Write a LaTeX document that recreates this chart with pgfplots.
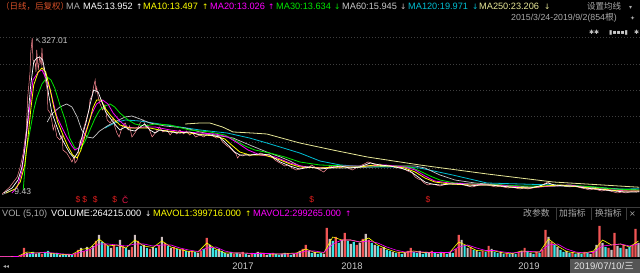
\documentclass[border=0pt]{standalone}
\usepackage{fontspec}
\setmainfont{Liberation Sans}
\newfontfamily\cjk{Noto Sans CJK SC}
\newfontfamily\dv{DejaVu Sans}
\usepackage{pgfplots}
\usepackage{pgfplotstable}
\pgfplotsset{compat=1.18}

\definecolor{ma5}{RGB}{255,255,255}
\definecolor{ma10}{RGB}{255,255,0}
\definecolor{ma20}{RGB}{255,0,255}
\definecolor{ma30}{RGB}{0,230,0}
\definecolor{ma60}{RGB}{200,200,200}
\definecolor{ma120}{RGB}{0,190,210}
\definecolor{ma250}{RGB}{230,230,150}
\definecolor{candle}{RGB}{255,140,150}
\definecolor{vred}{RGB}{240,85,85}
\definecolor{vcyan}{RGB}{60,230,230}
\definecolor{vgray}{RGB}{205,190,190}
\definecolor{txtgray}{RGB}{170,170,170}
\definecolor{titleor}{RGB}{215,80,40}
\definecolor{gridc}{RGB}{62,62,62}
\definecolor{sepc}{RGB}{60,60,60}
\definecolor{mkred}{RGB}{225,30,30}
\definecolor{datebg}{RGB}{85,85,85}

\newcommand{\hf}{\fontsize{9.2pt}{11pt}\selectfont}
\newcommand{\af}{\dv\fontsize{7.5pt}{9pt}\selectfont}

% close price (bar index, price)
\pgfplotstableread{
i p
3 9.43
13 23.7
23 44.0
27 64.4
31 92.9
35 139.7
37 207.0
40 255.8
41 296.5
43 327.0
44 282.2
47 276.1
48 257.8
49 302.6
51 261.9
53 288.4
55 272.1
56 306.7
57 276.1
60 247.6
63 221.2
64 180.4
67 174.3
69 160.1
71 139.7
73 149.9
76 125.5
80 119.4
83 129.5
84 99.0
89 92.9
93 82.7
96 74.6
99 84.8
100 72.5
103 78.6
107 119.4
109 109.2
111 139.7
113 149.9
116 166.2
119 180.4
120 200.8
123 211.0
124 221.2
127 241.5
128 217.1
129 227.3
131 207.0
133 194.7
137 180.4
140 190.6
143 160.1
147 154.0
151 164.2
153 147.9
156 133.6
159 125.5
163 145.8
167 154.0
171 139.7
173 147.9
176 125.5
180 133.6
184 143.8
187 154.0
191 160.1
195 143.8
197 149.9
203 125.5
207 133.6
211 141.8
213 145.8
217 135.7
223 139.7
227 129.5
231 137.7
236 131.6
240 139.7
245 131.6
249 137.7
253 129.5
257 133.6
261 125.5
267 129.5
272 125.5
277 131.6
284 127.5
289 123.4
293 125.5
297 115.3
303 107.2
307 103.1
311 97.0
315 90.9
317 82.7
320 88.8
324 86.8
329 90.9
333 86.8
339 90.9
343 88.8
348 92.9
354 88.8
358 90.9
363 84.8
367 78.6
371 74.6
376 70.5
380 66.4
384 68.5
390 62.4
395 58.3
400 60.3
406 64.4
411 62.4
416 68.5
422 62.4
427 58.3
432 54.2
436 60.3
440 66.4
444 64.4
450 68.5
454 62.4
459 66.4
464 62.4
470 58.3
475 62.4
480 66.4
486 70.5
491 74.6
496 72.5
502 68.5
507 70.5
512 66.4
518 64.4
523 66.4
528 62.4
534 62.4
539 60.3
544 56.3
550 52.2
554 44.0
558 40.0
562 37.9
566 31.8
571 27.8
576 29.8
582 27.8
587 25.7
592 27.8
598 29.8
603 31.8
608 29.8
614 31.8
619 27.8
624 25.7
630 23.7
635 25.7
640 27.8
646 29.8
651 27.8
656 25.7
662 23.7
667 25.7
672 23.7
678 21.6
683 23.7
688 21.6
694 19.6
699 21.6
704 19.6
710 21.6
715 23.7
720 25.7
726 29.8
731 33.9
735 29.8
739 27.8
744 25.7
750 27.8
755 25.7
760 23.7
766 25.7
771 23.7
776 21.6
782 19.6
787 17.6
792 19.6
798 17.6
803 15.5
808 17.6
814 15.5
819 13.5
824 11.5
830 13.5
835 11.5
840 13.5
846 15.5
850 13.5
853 13.95
}\closeT

\pgfplotstableread{
i p
5 11.5
16 21.6
24 37.9
29 62.4
33 99.0
37 160.1
41 231.4
45 278.2
49 286.3
53 288.4
57 282.2
61 251.7
65 211.0
69 176.4
75 149.9
80 129.5
87 109.2
93 92.9
99 82.7
104 94.9
109 123.4
115 156.0
120 190.6
125 221.2
131 217.1
136 196.7
141 176.4
147 164.2
153 151.9
160 139.7
167 145.8
173 139.7
180 137.7
187 145.8
193 151.9
200 139.7
207 133.6
213 139.7
227 135.7
240 133.6
253 135.7
267 129.5
280 129.5
293 125.5
300 115.3
307 105.1
313 94.9
320 88.8
333 88.8
347 90.9
360 88.8
374 74.6
387 66.4
400 60.3
414 64.4
427 60.3
440 62.4
454 66.4
467 62.4
480 64.4
494 72.5
507 68.5
520 66.4
534 62.4
547 56.3
558 44.0
567 33.9
576 29.8
587 27.8
600 29.8
614 29.8
627 25.7
640 27.8
654 27.8
667 25.7
680 23.7
694 21.6
707 21.6
720 25.7
731 31.8
740 27.8
754 25.7
767 25.7
780 21.6
794 19.6
807 17.6
820 15.5
834 13.5
847 13.5
853 13.95
}\maA

\pgfplotstableread{
i p
8 11.5
20 19.6
27 33.9
33 68.5
37 119.4
41 180.4
45 231.4
51 257.8
56 265.9
61 257.8
67 221.2
72 184.5
77 156.0
84 129.5
91 105.1
97 88.8
103 82.7
108 99.0
113 125.5
119 156.0
124 184.5
129 200.8
135 200.8
140 184.5
147 170.3
153 160.1
160 149.9
173 143.8
187 143.8
200 143.8
213 139.7
233 135.7
253 133.6
273 129.5
287 127.5
300 121.4
309 109.2
320 94.9
333 88.8
353 88.8
374 78.6
387 70.5
400 64.4
427 62.4
454 64.4
480 64.4
500 68.5
520 66.4
540 62.4
554 54.2
567 42.0
580 33.9
600 29.8
627 27.8
654 27.8
680 23.7
707 21.6
727 25.7
747 27.8
774 23.7
800 19.6
827 15.5
853 15.5
}\maB

\pgfplotstableread{
i p
16 11.5
23 23.7
29 54.2
36 139.7
40 190.6
44 241.5
51 257.8
56 261.9
61 245.6
67 221.2
72 190.6
76 166.2
83 143.8
89 125.5
96 107.2
100 99.0
105 103.1
109 113.3
116 143.8
123 174.3
129 192.7
137 200.8
144 192.7
151 174.3
160 158.0
169 145.8
180 143.8
193 145.8
207 145.8
227 139.7
247 135.7
267 133.6
287 131.6
304 125.5
317 113.3
331 99.0
347 88.8
367 84.8
387 72.5
407 64.4
434 62.4
460 66.4
487 66.4
514 68.5
540 64.4
554 58.3
567 46.1
580 35.9
600 31.8
627 29.8
654 27.8
680 25.7
707 21.6
734 25.7
760 27.8
787 21.6
814 17.6
840 15.5
853 15.5
}\maC

\pgfplotstableread{
i p
31 17.6
35 97.0
40 137.7
45 180.4
49 204.9
56 233.4
63 247.6
68 241.5
73 225.3
80 190.6
87 160.1
93 123.4
100 103.1
107 101.0
113 115.3
120 139.7
127 164.2
133 180.4
140 188.6
147 192.7
153 186.6
160 174.3
171 160.1
180 151.9
193 147.9
207 151.9
227 149.9
253 139.7
280 135.7
300 129.5
313 119.4
327 107.2
340 99.0
360 92.9
380 84.8
400 74.6
427 68.5
460 66.4
494 66.4
527 66.4
547 64.4
560 56.3
574 46.1
587 37.9
607 31.8
634 29.8
667 27.8
694 25.7
727 25.7
760 27.8
794 23.7
820 19.6
853 17.6
}\maD

\pgfplotstableread{
i p
63 156.0
69 172.3
80 186.6
89 192.7
96 186.6
103 166.2
109 139.7
116 125.5
124 123.4
133 137.7
143 147.9
153 156.0
167 166.2
176 168.2
187 162.1
200 154.0
220 147.9
247 143.8
267 135.7
287 129.5
311 123.4
333 109.2
356 94.9
374 84.8
387 76.6
400 66.4
427 62.4
460 62.4
494 64.4
527 66.4
554 66.4
567 62.4
587 48.1
607 37.9
634 31.8
667 27.8
707 23.7
747 25.7
787 23.7
820 19.6
853 17.6
}\maE

\pgfplotstableread{
i p
140 143.8
153 154.0
167 160.1
187 158.0
213 151.9
240 145.8
267 139.7
303 133.6
333 123.4
356 113.3
400 92.9
427 76.6
454 68.5
490 64.4
534 64.4
560 62.4
604 48.1
650 31.8
694 29.8
738 27.8
787 23.7
827 19.6
853 19.97
}\maF

\pgfplotstableread{
i p
247 151.9
267 154.0
280 154.0
297 145.8
311 135.7
336 133.6
356 131.6
400 113.3
444 99.0
490 84.8
534 74.6
560 68.5
650 50.2
738 33.9
853 23.2
}\maG

% volume, unit 10^4 shares; c: 1 up, 2 down, 3 hollow up
\pgfplotstableread{
i v c
0 2.4 1
4 2.4 1
8 2.4 1
12 2.4 1
16 3 1
20 3 1
24 3.6 1
28 9 1
32 54 1
36 24 3
40 18 2
44 30 2
48 18 3
52 24 2
56 18 1
60 30 2
64 36 2
68 24 3
72 18 2
76 24 2
80 12 3
84 18 2
88 12 2
92 18 3
96 12 2
100 18 1
104 42 1
108 54 3
112 36 1
116 60 3
120 48 1
124 66 3
128 96 1
132 132 3
136 90 2
140 78 1
144 66 2
148 54 3
152 72 1
156 60 2
160 102 3
164 66 1
168 54 2
172 42 3
176 60 1
180 132 3
184 96 1
188 66 2
192 72 3
196 54 2
200 48 1
204 60 3
208 54 2
212 72 1
216 120 3
220 84 1
224 66 2
228 54 3
232 60 1
236 48 2
240 42 3
244 48 1
248 36 2
252 30 3
256 36 1
260 30 2
264 24 3
268 36 1
272 48 2
276 114 1
280 72 3
284 54 2
288 42 2
292 48 3
296 36 2
300 24 2
304 18 3
308 30 2
312 18 1
316 24 2
320 18 3
324 30 1
328 18 2
332 12 3
336 24 1
340 18 2
344 30 3
348 18 2
352 24 1
356 12 3
360 18 2
364 24 1
368 18 2
372 12 2
376 18 3
380 24 2
384 18 1
388 12 2
392 18 3
396 24 1
400 36 3
404 48 1
408 72 1
412 36 3
416 24 2
420 30 3
424 18 2
428 24 2
432 18 3
436 174 1
440 108 3
444 96 2
448 120 1
452 84 2
456 102 3
460 144 1
464 96 2
468 78 3
472 90 2
476 72 1
480 84 3
484 108 1
488 138 3
492 102 1
496 84 2
500 72 3
504 66 2
508 54 1
512 60 3
516 42 2
520 36 2
524 30 3
528 24 2
532 30 1
536 18 2
540 24 3
544 36 1
548 54 1
552 30 2
556 24 2
560 36 3
564 18 2
568 30 2
572 24 3
576 36 1
580 24 2
584 18 3
588 30 2
592 24 1
596 18 2
600 30 3
604 24 2
608 48 1
612 132 1
616 102 3
620 72 2
624 54 3
628 60 1
632 42 2
636 36 3
640 30 2
644 36 1
648 30 2
652 66 1
656 48 3
660 30 2
664 24 2
668 30 3
672 18 2
676 24 1
680 18 2
684 24 3
688 18 2
692 30 1
696 36 3
700 54 1
704 36 2
708 24 3
712 18 2
716 30 1
720 24 2
724 42 1
728 162 1
732 120 3
736 90 1
740 72 2
744 60 3
748 42 2
752 30 2
756 36 3
760 24 2
764 30 1
768 18 2
772 24 3
776 18 2
780 30 1
784 24 2
788 18 3
792 36 1
796 72 3
800 186 1
804 84 3
808 60 2
812 54 1
816 42 3
820 144 1
824 66 3
828 54 2
832 72 1
836 48 3
840 60 2
844 72 1
848 168 1
852 84 3
}\volT

\pgfplotstableread{
i v
0 2.4
12 2.4
24 3.6
36 30
48 24
60 27
72 21
84 15
96 15
108 45
120 54
132 108
144 66
156 72
168 54
180 102
192 66
204 57
216 96
228 60
240 45
252 33
264 30
276 84
288 48
300 24
312 24
324 24
336 21
348 24
360 18
372 18
384 21
396 24
408 48
420 27
432 24
444 120
456 102
468 102
480 90
492 114
504 72
516 48
528 30
540 27
552 36
564 27
576 27
588 24
600 27
612 90
624 66
636 39
648 36
660 36
672 24
684 21
696 36
708 30
720 30
732 108
744 66
756 33
768 24
780 24
792 36
804 102
816 72
828 78
840 60
852 96
}\mavA

\pgfplotstableread{
i v
0 2.4
12 2.4
24 3
36 18
48 24
60 27
72 24
84 18
96 15
108 30
120 45
132 78
144 78
156 72
168 66
180 78
192 78
204 66
216 72
228 72
240 54
252 42
264 33
276 54
288 60
300 36
312 24
324 24
336 21
348 21
360 21
372 18
384 18
396 21
408 36
420 36
432 27
444 78
456 102
468 102
480 90
492 96
504 84
516 60
528 42
540 30
552 30
564 30
576 27
588 27
600 27
612 60
624 72
636 54
648 39
660 39
672 30
684 24
696 30
708 33
720 30
732 72
744 78
756 48
768 30
780 24
792 27
804 66
816 72
828 78
840 66
852 78
}\mavB

\pgfplotsset{stockaxis/.style={
  scale only axis, width=640pt, xmin=0, xmax=854,
  axis line style={draw=none}, tick style={draw=none},
  xtick=\empty, yticklabels={}, enlargelimits=false,
}}

\begin{document}
\begin{tikzpicture}[x=1pt,y=1pt]
\useasboundingbox (0,0) rectangle (640,273);
\fill[black] (0,0) rectangle (640,273);

% separators
\draw[sepc, line width=0.6pt] (0,65.5) -- (640,65.5);
\foreach \xx in {556,591,626} \draw[sepc, line width=0.6pt] (\xx,53) -- (\xx,65.5);

% price panel
\begin{axis}[stockaxis, at={(0pt,66pt)}, anchor=south west, height=177pt,
  ymin=-17.04, ymax=343.3,
  ytick={62.4,115.3,168.2,221.2,274.1,329.1},
  ymajorgrids, grid style={gridc, line width=0.6pt, dash pattern=on 0.6pt off 2.4pt}]
\addplot[candle, line width=0.5pt] table[x=i,y=p]{\closeT};
\addplot[ma250, line width=0.8pt] table[x=i,y=p]{\maG};
\addplot[ma120, line width=0.8pt] table[x=i,y=p]{\maF};
\addplot[ma60, line width=0.7pt] table[x=i,y=p]{\maE};
\addplot[ma30, line width=0.8pt] table[x=i,y=p]{\maD};
\addplot[ma20, line width=0.8pt] table[x=i,y=p]{\maC};
\addplot[ma10, line width=0.8pt] table[x=i,y=p]{\maB};
\addplot[ma5, line width=0.7pt] table[x=i,y=p]{\maA};
% peak / trough labels
\node[anchor=west, inner sep=0, text=ma60] at (axis cs:47,321) {\af ↖\fontsize{8.5pt}{10pt}\selectfont\rmfamily 327.01};
\draw[ma60, line width=0.4pt] (axis cs:3,8) -- (axis cs:16,17);
\node[anchor=west, inner sep=0, text=ma60] at (axis cs:19,14) {\fontsize{8.5pt}{10pt}\selectfont 9.43};
% dividend markers
\pgfplotsinvokeforeach{104,113,127,153,416,571}{
  \node[text=mkred, inner sep=0] at (axis cs:#1,-3) {\fontsize{8.5pt}{9pt}\selectfont\$};
}
\node[text=mkred!80!magenta, inner sep=0] at (axis cs:167,-3) {\fontsize{8.5pt}{9pt}\selectfont Č};
\end{axis}

% volume panel
\begin{axis}[stockaxis, at={(0pt,16pt)}, anchor=south west, height=39pt,
  ymin=0, ymax=234, ytick=\empty]
\addplot[ybar, bar width=2.2pt, bar shift=0pt, fill=vred, draw=none,
  restrict expr to domain={\thisrow{c}}{0.5:1.5}] table[x=i,y=v]{\volT};
\addplot[ybar, bar width=2.2pt, bar shift=0pt, fill=vcyan, draw=none,
  restrict expr to domain={\thisrow{c}}{1.5:2.5}] table[x=i,y=v]{\volT};
\addplot[ybar, bar width=2.2pt, bar shift=0pt, fill=vgray, draw=none,
  restrict expr to domain={\thisrow{c}}{2.5:3.5}] table[x=i,y=v]{\volT};
\addplot[ma10, line width=0.6pt] table[x=i,y=v]{\mavA};
\addplot[ma20, line width=0.6pt] table[x=i,y=v]{\mavB};
\end{axis}

% header row
\begin{scope}[every node/.style={anchor=base west, inner sep=0}]
\node[text=titleor] at (1,263.5) {\cjk\fontsize{8.5pt}{10pt}\selectfont （日线，后复权）};
\node[text=txtgray] at (66,263.5) {\hf MA};
\node[text=ma5] at (83,263.5) {\hf MA5:13.952};
\node[text=ma5] at (136,263.5) {\af ↑};
\node[text=ma10] at (143,263.5) {\hf MA10:13.497};
\node[text=ma10] at (202,263.5) {\af ↑};
\node[text=ma20] at (210,263.5) {\hf MA20:13.026};
\node[text=ma20] at (268,263.5) {\af ↑};
\node[text=ma30] at (276,263.5) {\hf MA30:13.634};
\node[text=ma30] at (334,263.5) {\af ↓};
\node[text=ma60] at (342,263.5) {\hf MA60:15.945};
\node[text=vgray] at (400,263.5) {\af ↓};
\node[text=ma120] at (408,263.5) {\hf MA120:19.971};
\node[text=ma120] at (472,263.5) {\af ↓};
\node[text=ma250] at (479,263.5) {\hf MA250:23.206};
\node[text=ma250] at (544,263.5) {\af ↓};
\node[text=txtgray] at (587,263.5) {\cjk\fontsize{8.5pt}{10pt}\selectfont 设置均线};
\node[text=txtgray] at (629,263.5) {\dv\fontsize{6pt}{7pt}\selectfont ▾};
\node[text=txtgray] at (511,252) {\fontsize{8.8pt}{10pt}\selectfont 2015/3/24-2019/9/2(854{\cjk 根})};
\node[text=txtgray] at (630,252) {\dv\fontsize{6pt}{7pt}\selectfont ✦};
\node[text=ma60] at (589,238.5) {\dv\fontsize{6pt}{7pt}\selectfont ✱✱};
\node[text=ma60] at (609,238.5) {\dv\fontsize{6pt}{7pt}\selectfont ▮▪▪▪▮};
\node[text=ma60] at (634,238.5) {\dv\fontsize{6pt}{7pt}\selectfont ✱};
% VOL row
\node[text=txtgray] at (2,56) {\hf VOL (5,10)};
\node[text=ma5] at (51,56) {\hf VOLUME:264215.000};
\node[text=ma5] at (145,56) {\af ↓};
\node[text=ma10] at (153,56) {\hf MAVOL1:399716.000};
\node[text=ma10] at (245,56) {\af ↑};
\node[text=ma20] at (253,56) {\hf MAVOL2:299265.000};
\node[text=ma20] at (345,56) {\af ↑};
\node[text=txtgray] at (523,56) {\cjk\fontsize{8.8pt}{10pt}\selectfont 改参数};
\node[text=txtgray] at (559,56) {\cjk\fontsize{8.8pt}{10pt}\selectfont 加指标};
\node[text=txtgray] at (595,56) {\cjk\fontsize{8.8pt}{10pt}\selectfont 换指标};
\node[text=txtgray] at (629,56) {\dv\fontsize{8pt}{9pt}\selectfont ×};
\node[text=txtgray] at (3,4) {\dv\fontsize{6pt}{7pt}\selectfont ◂◂};
\end{scope}

% x axis years and date box
\node[text=ma60, inner sep=0] at (243,7) {\fontsize{9.5pt}{11pt}\selectfont 2017};
\node[text=ma60, inner sep=0] at (352,7) {\fontsize{9.5pt}{11pt}\selectfont 2018};
\node[text=ma60, inner sep=0] at (529,7) {\fontsize{9.5pt}{11pt}\selectfont 2019};
\fill[datebg] (570,0) rectangle (640,14);
\node[text=white!90!black, anchor=west, inner sep=0] at (574,7) {\fontsize{9.5pt}{11pt}\selectfont 2019/07/10/{\cjk 三}};
\end{tikzpicture}
\end{document}
